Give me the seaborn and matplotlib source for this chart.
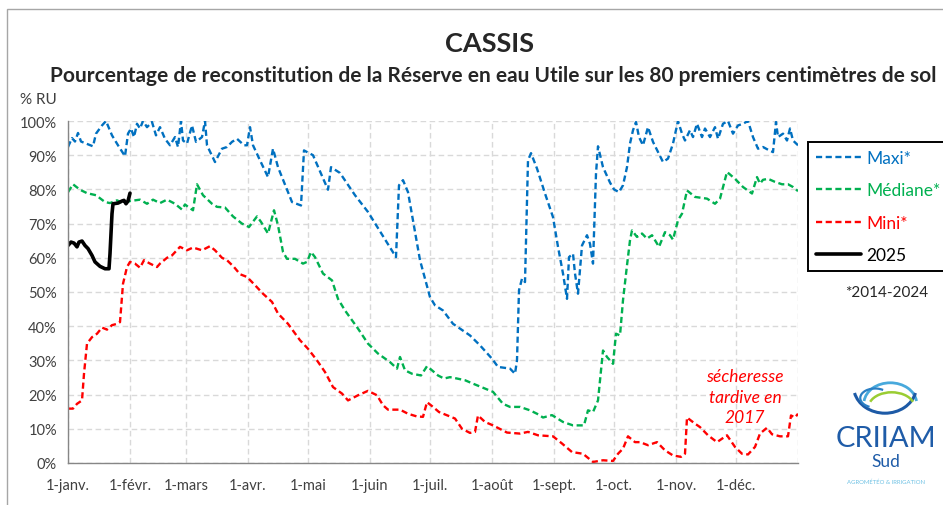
import numpy as np
import pandas as pd
import seaborn as sns
import matplotlib.pyplot as plt
from matplotlib.ticker import PercentFormatter
from matplotlib.patches import Rectangle, Arc

# data (day of year from 1 Jan, % RU)
maxi_day = [0, 2, 3.5, 5, 6.5, 12.5, 14, 17, 19, 22, 25, 28.5, 30, 31.5, 33, 34.5, 36, 37.5, 39.5, 42,
            44, 46, 48.5, 51, 53.5, 55, 56.5, 57.5, 59.5, 62, 64, 67, 68.5, 69.5, 73.5, 77, 79.5, 82, 84.5,
            88, 89.5, 91, 92.5, 96, 100, 102.5, 105, 112, 116.5, 118, 122.5, 130, 131.5, 136, 143.5, 150,
            164, 165.5, 167.5, 170, 176, 181, 183.5, 187.5, 192.5, 201, 206, 212, 215, 221, 223.5, 224.5,
            225.5, 227, 228.5, 230, 231.5, 234.5, 238.5, 242.5, 245, 247.5, 249.5, 250.5, 252.5, 253.5,
            255, 257, 259.5, 261, 262.5, 264, 265, 267.5, 271, 273, 275.5, 277.5, 279.5, 281, 282.5, 284,
            285.5, 287.5, 290, 292.5, 297.5, 300, 302.5, 305, 307, 308.5, 311, 312.5, 314.5, 317, 318.5,
            321, 323.5, 325, 327.5, 330, 332.5, 335, 337.5, 340, 342.5, 345, 347.5, 350, 352.5, 354, 355,
            357.5, 359.5, 361, 362.5, 365]
maxi_val = [92.4, 95, 94, 96.5, 94, 92.6, 96.3, 98.7, 100, 95.8, 92.9, 89.7, 96.3, 97.8, 95.3, 99.2, 97.8,
            100, 98.2, 99.7, 95.8, 98.2, 94.8, 92.9, 95.3, 92.4, 100, 94.3, 93.4, 98.7, 93.9, 95.3, 100,
            92.9, 88, 91.9, 92.4, 93.9, 94.8, 92.9, 92.9, 98.2, 92.9, 88.5, 83.6, 91.9, 86.5, 76.3, 75.3,
            91.4, 90, 79.9, 86.5, 84.8, 78.3, 73.4, 60.2, 81.2, 82.7, 79.2, 59.3, 48.5, 46.1, 44.6, 40.7,
            37.3, 34.4, 30.5, 28.1, 27.6, 26.1, 30, 50.5, 53.9, 52.9, 88.5, 90.6, 86.1, 78.8, 71.9, 63.2,
            55.4, 48, 60.2, 61.2, 55.4, 49.5, 63.6, 66.6, 64.1, 58.3, 84.6, 92.6, 86.5, 82, 80, 79.2, 81.2,
            86.5, 93.4, 97.3, 99.7, 95.3, 92.9, 98.2, 93.9, 88, 89, 93.4, 100, 96.3, 94.3, 97.3, 95.3,
            99.2, 95.3, 97.8, 95.3, 98.2, 94.8, 99.2, 100, 96.3, 98.7, 99.2, 100, 95.3, 91.9, 92.4, 91.6,
            90.9, 99.7, 95.3, 96.3, 94.3, 97.8, 94.3, 92.9]

med_day = [0, 2.5, 6, 9.5, 14, 18.5, 21, 24.5, 27.5, 31, 36, 39.5, 42.5, 46, 49.5, 53.5, 57, 58.5, 60,
           62.5, 64.5, 67.5, 72, 74.5, 78.5, 82.5, 87, 90.5, 94.5, 96.5, 100, 103, 105, 107.5, 109.5,
           113.5, 117.5, 119.5, 121.5, 123.5, 127.5, 132, 135, 138.5, 145, 150, 155, 161, 164.5, 166,
           168.5, 172, 176.5, 179.5, 182, 185, 188, 191, 194.5, 198.5, 202.5, 207.5, 212.5, 217.5, 221,
           226, 231, 234.5, 237.5, 242, 247.5, 252.5, 258, 260, 262.5, 265, 267.5, 269.5, 272.5, 274,
           276, 277.5, 279.5, 281, 282, 284.5, 287, 289.5, 292, 295.5, 298.5, 301, 302.5, 305, 307,
           309.5, 313.5, 319.5, 323.5, 326, 329.5, 333.5, 337.5, 342, 344.5, 346, 347.5, 350, 353.5,
           357, 360, 362.5, 365]
med_val = [79.2, 81.5, 79.9, 78.9, 78.3, 76.3, 76, 76.8, 76, 76.6, 77, 75.8, 77, 76, 77, 75.8, 74.1, 75.6,
           74.9, 73.9, 81.5, 78.3, 75.8, 74.9, 74.7, 72.1, 70, 69, 72.1, 70.5, 67.1, 73.9, 69.5, 61.7,
           59.7, 59.7, 58.3, 58.8, 61.7, 60.2, 55.4, 53.4, 48, 44.6, 39.3, 34.9, 32, 29.5, 27.6, 31, 27.1,
           26.1, 25.6, 28.3, 27.1, 25.6, 24.7, 25.1, 24.7, 24.2, 23.2, 22, 20.8, 17.3, 16.4, 16.4, 15.4,
           14.4, 13.3, 14, 12, 11, 11, 15.4, 14.9, 18.3, 32.9, 31, 29, 37.8, 37.3, 47.6, 57.8, 65.1, 68,
           66.1, 67.1, 65.6, 66.6, 63.2, 67.5, 66.6, 65.3, 71, 72.9, 79.7, 77.8, 77.3, 75.8, 77.3, 85.1,
           83.1, 80.7, 78.8, 83.6, 81.7, 82.8, 83.1, 82.2, 81.5, 81.5, 80.7, 79.5]

mini_day = [0, 2.5, 4.5, 7, 8, 9.5, 12, 14.5, 17, 19.5, 22, 24.5, 26, 27.5, 29.5, 31, 33.5, 36, 38, 41,
            44.5, 46, 49.5, 52, 56, 59.5, 62.5, 67, 71, 73.5, 77, 79.5, 83, 86, 89.5, 93.5, 97.5, 102,
            105, 110, 116, 120, 124.5, 128.5, 132.5, 137, 140, 145, 150, 154.5, 157.5, 160, 166, 170,
            174.5, 177.5, 179.5, 182.5, 185.5, 191, 193.5, 197, 201, 203.5, 205, 208.5, 212.5, 219.5,
            226, 230, 235, 242.5, 247, 252, 257.5, 262.5, 267.5, 272.5, 275, 277.5, 280, 283.5, 286, 290,
            294.5, 298.5, 302.5, 306.5, 308.5, 309.5, 313.5, 316, 320, 324.5, 329.5, 333.5, 337, 340,
            343.5, 346, 349.5, 352, 356, 360, 361.5, 363.5, 365]
mini_val = [15.9, 15.9, 17.3, 18.3, 26.1, 34.9, 36.8, 37.8, 39.6, 39, 40.3, 40.7, 41.2, 52.4, 57.3, 58.8,
            58.3, 57.1, 59.3, 58.3, 57.3, 58.3, 60, 60.7, 63.2, 62.2, 63, 62.2, 63.4, 62.2, 60, 59.3, 57.3,
            55.2, 54.4, 52, 49.5, 47.1, 43.7, 40.7, 35.9, 33.4, 30, 26.6, 22.2, 20.3, 18.3, 19.8, 21.1,
            19.8, 16.9, 15.6, 15.6, 14.4, 13.6, 13.5, 17.8, 16.4, 14.9, 13.6, 13, 10, 8.8, 9.1, 13.9, 12,
            11, 8.9, 8.6, 9.1, 8.1, 7.8, 5.7, 3.2, 2.7, 0.3, 0.8, 0.6, 2.7, 4.2, 7.8, 6.1, 6.1, 5.2, 6.1,
            3.7, 2.2, 1.8, 2.7, 13.3, 11.5, 10.5, 8.1, 6.1, 8.1, 4.7, 2.7, 2.5, 4.7, 8.6, 10.3, 8.4, 7.8,
            7.8, 13.9, 13.3, 14.4]

y2025_day = [0, 1.5, 3, 4.5, 5.5, 7, 8.5, 10, 12, 13.5, 16, 18.5, 20.5, 21, 22, 22.5, 25, 27, 28, 29, 30, 31]
y2025_val = [63.6, 64.6, 64.3, 63.2, 64.6, 64.9, 63.6, 62.7, 60.7, 58.8, 57.5, 56.8, 56.8, 61.2, 72.9,
             75.8, 76, 76.6, 76.8, 75.8, 76.6, 78.9]

month_labels = ['1-janv.', '1-févr.', '1-mars', '1-avr.', '1-mai', '1-juin', '1-juil.',
                '1-août', '1-sept.', '1-oct.', '1-nov.', '1-déc.', '']

start = pd.Timestamp('2025-01-01')

def to_frame(days, vals):
    return pd.DataFrame({'date': start + pd.to_timedelta(days, unit='D'), 'value': vals})

sns.set_theme(style="white")
plt.rcParams['font.family'] = ['Lato', 'DejaVu Sans']

W, H = 943, 506
fig = plt.figure(figsize=(W / 100, H / 100), dpi=100)
ax = fig.add_axes([68 / W, 1 - 464 / H, 730 / W, 342 / H])

dash = (0, (2.6, 1.5))
series = [(maxi_day, maxi_val, '#0070C0', 'Maxi*'),
          (med_day, med_val, '#00B050', 'Médiane*'),
          (mini_day, mini_val, '#FF0000', 'Mini*')]
for d, v, col, lab in series:
    sns.lineplot(data=to_frame(d, v), x='date', y='value', ax=ax, color=col,
                 linewidth=1.7, linestyle=dash, label=lab)
sns.lineplot(data=to_frame(y2025_day, y2025_val), x='date', y='value', ax=ax,
             color='black', linewidth=2.6, label='2025')

ticks = pd.date_range('2025-01-01', '2026-01-01', freq='MS')
ax.set_xlim(ticks[0], ticks[-1])
ax.set_xticks(ticks)
ax.set_xticklabels(month_labels)
ax.set_ylim(0, 100)
ax.set_yticks(np.arange(0, 101, 10))
ax.yaxis.set_major_formatter(PercentFormatter(100, decimals=0))
ax.set_xlabel('')
ax.set_ylabel('')
ax.grid(True, color='#d9d9d9', linestyle=(0, (4, 2.5)), linewidth=1)
ax.set_axisbelow(True)
for s in ['top', 'right']:
    ax.spines[s].set_visible(False)
for s in ['left', 'bottom']:
    ax.spines[s].set_color('#868686')
    ax.spines[s].set_linewidth(1)
ax.tick_params(axis='x', direction='out', length=5, width=1, color='#868686',
               labelsize=10.5, labelcolor='#404040', pad=6)
ax.tick_params(axis='y', direction='out', length=4, width=1, color='#868686',
               labelsize=10.5, labelcolor='#404040', pad=4)

leg = ax.legend(loc='upper left', bbox_to_anchor=(808 / W, 1 - 143 / H),
                bbox_transform=fig.transFigure, borderaxespad=0, fontsize=12.5,
                handlelength=2.6, handletextpad=0.3, labelspacing=0.95, borderpad=0.45,
                frameon=True, fancybox=False, framealpha=1, labelcolor='linecolor')
leg.get_frame().set_edgecolor('black')
leg.get_frame().set_linewidth(1.4)

ax.text(start + pd.Timedelta(days=338.5), 19.4, 'sécheresse\ntardive en\n2017',
        ha='center', va='center', color='red', style='italic', fontsize=12.5, linespacing=1.35)

# titles and texts
fig.text(490 / W, 1 - 44 / H, 'CASSIS', ha='center', va='center', fontsize=19.5, fontweight='bold')
fig.text(493 / W, 1 - 76 / H,
         'Pourcentage de reconstitution de la Réserve en eau Utile sur les 80 premiers centimètres de sol',
         ha='center', va='center', fontsize=15, fontweight='bold')
fig.text(20 / W, 1 - 100 / H, '% RU', ha='left', va='center', fontsize=11, color='#404040')
fig.text(887 / W, 1 - 293 / H, '*2014-2024', ha='center', va='center', fontsize=11)

# logo
fig.text(886 / W, 1 - 439 / H, 'CRIIAM', ha='center', va='center', fontsize=21, color='#1f5ca8')
fig.text(886 / W, 1 - 462 / H, 'Sud', ha='center', va='center', fontsize=12.5, color='#1f5ca8')
fig.text(886 / W, 1 - 482 / H, 'AGROMÉTÉO & IRRIGATION', ha='center', va='center',
         fontsize=4.3, color='#6ec1e4')
lax = fig.add_axes([852 / W, 1 - 418 / H, 66 / W, 38 / H])
lax.set_xlim(0, 1)
lax.set_ylim(0, 1)
lax.axis('off')
lax.add_patch(Arc((0.58, 0.35), 0.8, 1.1, theta1=10, theta2=170, color='#48a9dc', lw=2))
lax.add_patch(Arc((0.5, 0.8), 0.95, 1.4, theta1=200, theta2=340, color='#1d5aa6', lw=2.2))
lax.add_patch(Arc((0.6, 0.25), 0.7, 0.8, theta1=25, theta2=155, color='#9acd32', lw=1.8))
lax.add_patch(Arc((0.35, 0.5), 0.45, 0.5, theta1=60, theta2=250, color='#2a7fc4', lw=1.6))

fig.add_artist(Rectangle((7 / W, -0.05), 1.0, 1 - 10 / H + 0.05, transform=fig.transFigure,
                         fill=False, edgecolor='#a6a6a6', lw=1))

fig.savefig('out.png', dpi=100)
